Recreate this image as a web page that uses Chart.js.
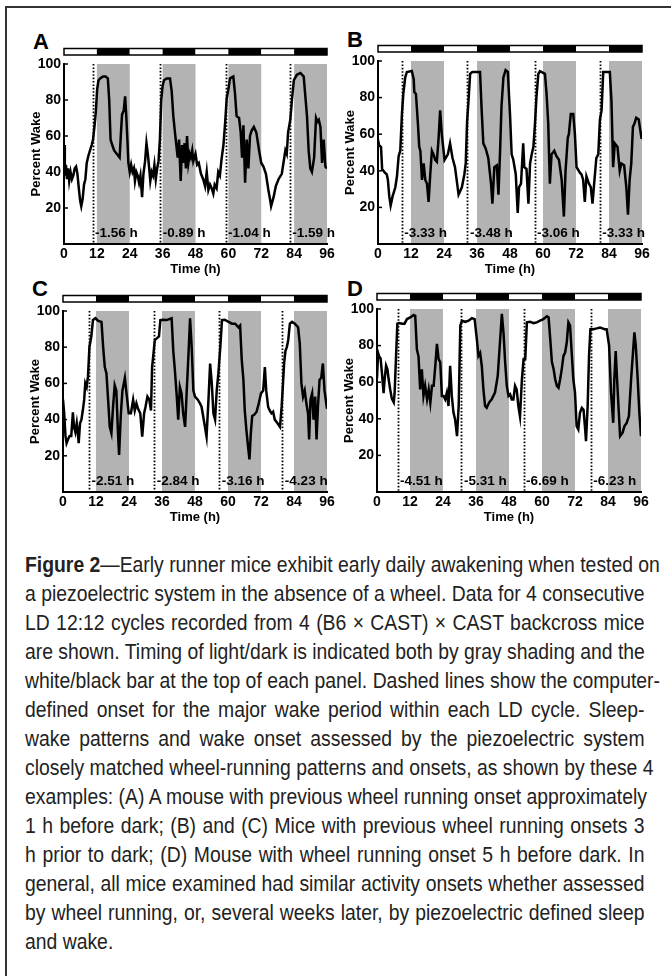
<!DOCTYPE html>
<html>
<head>
<meta charset="utf-8">
<script src="https://cdn.jsdelivr.net/npm/chart.js@4.4.0/dist/chart.umd.min.js"></script>
<style>
  body { margin: 0; background: #fff; }
  #page { position: relative; width: 671px; height: 976px; overflow: hidden; background: #fff; }
  #frame { position: absolute; left: 5px; top: 6px; width: 720px; height: 1000px;
           border-top: 2px solid #333; border-left: 2px solid #333; }
  canvas { position: absolute; }
  .tag { position: absolute; font: bold 22px "Liberation Sans", Arial, sans-serif; line-height: 22px; color: #000; }
  #caption { position: absolute; left: 25px; top: 550px;
             font-family: "Liberation Sans", Arial, sans-serif;
             font-size: 22px; line-height: 29px; color: #222; }
  /* narrow face: Arial metrics squeezed horizontally */
  #caption div { width: 704px; transform: scaleX(0.88); transform-origin: 0 0;
                 text-align: justify; text-align-last: justify; white-space: nowrap; }
  #caption div.last { text-align-last: left; }
</style>
</head>
<body>
<div id="page">
  <div id="frame"></div>
  <div class="tag" style="left:33px;top:31px">A</div>
  <div class="tag" style="left:347px;top:29px">B</div>
  <div class="tag" style="left:32px;top:278px">C</div>
  <div class="tag" style="left:347px;top:278px">D</div>
  <canvas id="chartA"></canvas>
  <canvas id="chartB"></canvas>
  <canvas id="chartC"></canvas>
  <canvas id="chartD"></canvas>
  <div id="caption">
    <div><b>Figure 2</b>—Early runner mice exhibit early daily awakening when tested on</div>
    <div>a piezoelectric system in the absence of a wheel. Data for 4 consecutive</div>
    <div>LD 12:12 cycles recorded from 4 (B6 × CAST) × CAST backcross mice</div>
    <div>are shown. Timing of light/dark is indicated both by gray shading and the</div>
    <div>white/black bar at the top of each panel. Dashed lines show the computer-</div>
    <div>defined onset for the major wake period within each LD cycle. Sleep-</div>
    <div>wake patterns and wake onset assessed by the piezoelectric system</div>
    <div>closely matched wheel-running patterns and onsets, as shown by these 4</div>
    <div>examples: (A) A mouse with previous wheel running onset approximately</div>
    <div>1 h before dark; (B) and (C) Mice with previous wheel running onsets 3</div>
    <div>h prior to dark; (D) Mouse with wheel running onset 5 h before dark. In</div>
    <div>general, all mice examined had similar activity onsets whether assessed</div>
    <div>by wheel running, or, several weeks later, by piezoelectric defined sleep</div>
    <div class="last">and wake.</div>
  </div>
</div>
<script>
// time axis ticks (h) and percent wake ticks
const timeTicks = [0, 12, 24, 36, 48, 60, 72, 84, 96];
const wakeTicks = [20, 40, 60, 80, 100];
const darkStarts = [12, 36, 60, 84];

// wake onset relative to dark onset (h), one per LD cycle
const onsetA = [-1.56, -0.89, -1.04, -1.59];
const onsetB = [-3.33, -3.48, -3.06, -3.33];
const onsetC = [-2.51, -2.84, -3.16, -4.23];
const onsetD = [-4.51, -5.31, -6.69, -6.23];

// panel A
const timeA = [0,0.3,0.7,1.1,1.5,1.9,2.4,2.9,3.4,3.9,4.4,4.9,5.4,5.9,6.3,6.8,7.3,7.8,8.3,8.9,9.5,10.1,10.6,11.1,11.6,12.1,12.6,13.2,14.2,15.2,16,16.5,17,17.6,18.3,19.3,20.3,20.8,21.2,21.8,22.3,22.7,23.2,23.5,24,24.5,25,25.5,25.9,26.4,26.9,27.4,27.9,28.5,29,29.6,30.1,30.6,31.1,31.5,32,32.5,33,33.5,34,34.5,35,35.5,36,36.5,37.5,38.7,39.3,39.9,40.5,41,41.5,42,42.6,43.1,43.5,44,44.5,44.9,45.4,45.9,46.3,46.8,47.2,48,48.6,49.2,50,50.8,51.5,52.1,52.7,53.3,53.9,54.5,55,55.7,56.3,56.9,57.5,58.2,58.8,59.4,60,60.6,61.8,62.4,63,63.9,64.5,65,65.5,66.1,66.7,67.3,67.9,68.5,69.3,70.2,71.2,72,72.8,73.7,74.6,75.3,75.6,76.5,77.3,78.3,79.5,80.2,80.8,81.3,81.8,82.6,83.2,83.9,85,86.3,87.5,88.1,88.7,89.3,89.9,90.5,91.3,92,92.5,93,93.6,94.2,94.8,95.4,96];
const wakeA = [55,38,44,36,42,35,40,36,38,42,43,39,31,24,21,25,33,36,45,49,52,55,58,65,73,86,91,92,93,93,92,80,58,55,52,50,48,62,72,74,82,72,56,45,40,44,40,42,35,40,38,34,38,26,39,46,56,50,42,35,40,38,44,36,42,46,58,80,88,91,92,92,85,71,62,55,48,58,35,55,45,56,42,60,45,50,48,52,46,50,44,45,39,36,32,40,30,33,31,28,33,31,40,38,47,55,67,81,86,92,93,84,71,70,62,48,66,34,58,42,60,63,65,62,52,45,43,39,30,24,21,26,32,36,39,46,52,50,62,69,80,91,94,95,93,82,71,52,42,40,48,70,68,69,65,45,58,43,42];

// panel B
const timeB = [0,0.4,1.1,1.5,2.5,3.2,3.6,4.1,4.6,5.3,6.3,6.9,7.5,8.1,8.7,9.2,9.9,10.5,12.3,13,13.2,13.8,14.5,15,15.4,16,16.6,17.2,17.8,18.4,19,19.6,20.2,20.8,21.4,22,22.6,23.2,24.2,25.4,26.2,27.1,28,29.3,30.5,31.4,31.9,32.4,32.9,33.5,34.3,37.1,37.7,38.3,39.2,40.1,41.1,41.6,42.3,43.2,43.8,44.4,44.9,45.6,46.4,47.2,48,48.6,49.2,50.1,50.8,51.3,52,52.8,53.2,54,54.7,55.3,55.9,56.5,57.1,57.6,58.3,58.9,60.7,61.3,61.9,62.5,63.1,64.1,64.9,65.8,66.8,67.6,68.2,69,69.4,70.1,71,71.6,72.2,73.4,74,74.6,75.2,75.8,76.7,77.4,78,78.6,79.4,80.1,80.7,81.3,81.9,84.3,84.9,85.5,86.1,87.1,87.9,88.5,89.5,90.3,90.9,91.5,92.1,92.7,93.3,93.9,94.8,95.8,96];
const wakeB = [57,54,53,41,39,38,35,26,21,26,31,37,48,51,71,82,91,94,94.5,90,83,82,66,53,51,35,44,35,33,23,38,51,49,46,45,57,73,60,46,49,55,47,42,27,31,38,44,67,78,93,94,94,73,55,52,47,33,22,42,43,27,51,75,91,95,94,71,49,46,38,17,31,33,55,42,41,22,44,49,53,66,80,93,94.5,93,82,66,33,49,51,48,46,35,15,40,58,60,71,71,60,42,39,38,35,23,37,33,31,22,33,47,49,68,73,94,94,78,42,55,53,40,44,43,31,16,35,44,64,66,69,68,58,58];

// panel C
const timeC = [0,0.4,0.9,1.3,1.8,2.4,3,3.6,4,4.5,5,5.5,5.7,6.2,6.7,7.2,7.7,8.1,8.6,9.1,9.6,10.3,10.9,11.8,12.8,14,14.6,15.2,15.8,16.4,17,17.6,18.2,18.8,19.4,20,20.4,21,21.6,22.5,23.1,23.9,24.7,25.5,26.1,26.7,27.3,28.1,28.8,29.5,30,30.7,31.4,32,32.4,32.9,33.4,34.2,34.9,35.4,36.5,37.7,39.5,40.1,40.7,41.3,41.9,42.5,43.1,43.7,44.4,45,45.6,46.2,46.8,47.4,48,49,49.8,50.4,51.4,52.2,52.9,53.5,54.1,54.7,55.3,55.9,56.5,57.2,57.8,58.8,60.2,61.4,62.6,63.8,64.4,65,65.6,66.1,66.7,67.3,67.8,68.3,68.8,69.5,70.4,71.2,72,72.8,73.4,73.9,74.6,75.2,75.8,76.4,77,78,78.9,79.5,80,80.4,80.9,81.4,81.9,82.5,83.3,84.3,85.5,86.1,86.7,87.3,87.9,88.5,89.1,89.5,90,90.6,91.1,91.7,92.2,92.7,93.3,93.9,94.5,95.1,96];
const wakeC = [51,44,31,27,29,31,31,44,36,33,38,31,27,38,40,45,51,60,58,64,80,86,95,96,94.5,94,80,69,65.5,51,36,32.5,47,59,56,32.5,20.5,42,56,63,54.5,43.5,43.5,51,45,49,46,43.5,30.6,43.5,47,52.7,51,45,69,76.5,84,85,86,95,95.2,95,96,78,67,54.5,40,58,54.5,43.5,36,56,75,96,80,56,52.7,51,49,47,38,30.6,51,71,60,43.5,40,56,65.5,80,95,95.2,94,93,93,91,92,73,62,45,34,25,18,32.5,42,42.6,44.4,49,54.5,56,69,56,47,45,43.5,44.4,40,38,36,47,60,71,78,80,84,93,94,93,91,82,60,52.7,56,49,43.5,29,51,54.5,40,52.7,29,47,62,63,71,56,46];

// panel D
const timeD = [0,0.4,0.8,1.3,1.8,2.4,2.8,3.3,3.8,4.2,4.8,5.4,6.1,6.4,6.9,7.4,8.1,9.1,10,10.9,12.1,13.3,13.9,14.5,15.1,15.7,16.3,16.9,17.5,18.2,18.8,19.4,20,20.6,21.2,21.8,22.4,23,23.6,24.2,24.8,25.4,26,26.6,27.2,27.8,28.4,29.1,29.7,30.3,30.9,32.1,33.3,34.5,35.5,36.3,36.9,37.5,38.1,38.7,39.3,39.9,40.8,41.7,42.9,43.9,44.8,45.4,46,46.6,47.2,47.8,48.4,49,49.6,50.2,50.8,51.4,52,52.7,53.3,53.9,54.5,55.7,56.9,58.1,59.3,60.5,61.8,62.4,63,63.6,64.2,64.8,65.4,66,66.6,67.2,67.8,68.4,69,69.6,70.2,70.8,71.4,72,72.6,73.2,73.8,74.5,75.1,75.7,76,76.6,77.1,77.6,78.7,79.9,81.1,82,82.7,83.5,84.4,85.1,85.9,86.3,86.8,87.3,87.8,88.4,89.3,90,90.8,91.6,92.4,93,93.6,94.1,94.8,95.4,96];
const wakeD = [62,76,74,73,65,54,62,69,67,62,56,51,49,54,73,92,92.3,92,92,94.5,95.4,96.7,96.3,78,74,56,67,52.5,58,50.6,56,48.8,58,58,69,81,72.6,71,52.5,52.5,50.6,54.3,47,69,52.5,43.5,39.7,30.5,47,91,93.6,93,93.6,95,94.5,83.5,74.4,76,69,56,47,46,49,50.6,54.3,63.4,83.5,97.3,87,71,58,52.5,53.4,50.6,50.6,58,56,47,41.3,61.6,72.6,72.6,92.7,93,92.3,92.7,93.6,94.5,96,95.4,83.5,71,67.3,61.6,58,57,61.6,67.3,74.4,76.2,81.7,92.7,91,76.2,61.6,54.3,36,34.2,43.3,46,45,34.2,27.8,47,74.4,89,89,89.4,89.9,89.4,89,89,80,54.3,37.8,61.6,77,61.6,47,30.5,32.4,36,37.8,41.5,61.6,74.4,87.2,80,61.6,43.3,30.5];

Chart.defaults.font.family = "'Liberation Sans', Arial, Helvetica, sans-serif";
Chart.defaults.color = '#000';

const AXIS_W = 44, PAD_TOP = 24, PAD_RIGHT = 12, XAXIS_H = 36;

const ldPlugin = {
  id: 'ld',
  beforeDraw(chart, args, opts) {
    const {ctx, chartArea: a, scales: {x}} = chart;
    ctx.save();
    // gray shading for the dark phase
    ctx.fillStyle = '#b3b3b3';
    darkStarts.forEach(s => {
      const x0 = x.getPixelForValue(s), x1 = x.getPixelForValue(s + 12);
      ctx.fillRect(x0, a.top, x1 - x0, a.bottom - a.top);
    });
    // dotted lines at computed wake onset
    ctx.strokeStyle = '#000';
    ctx.lineWidth = 1.8;
    ctx.setLineDash([1.6, 1.8]);
    opts.onsets.forEach((o, i) => {
      const px = Math.round(x.getPixelForValue(darkStarts[i] + o)) + 0.5;
      ctx.beginPath();
      ctx.moveTo(px, a.top);
      ctx.lineTo(px, a.bottom);
      ctx.stroke();
    });
    ctx.restore();
  },
  afterDraw(chart, args, opts) {
    const {ctx, chartArea: a, scales: {x, y}} = chart;
    ctx.save();
    // onset labels
    ctx.font = "bold 13.5px 'Liberation Sans', Arial, sans-serif";
    ctx.fillStyle = '#000';
    ctx.textBaseline = 'middle';
    ctx.textAlign = 'left';
    opts.onsets.forEach((o, i) => {
      const px = x.getPixelForValue(darkStarts[i] + o);
      ctx.fillText(o.toFixed(2) + ' h', px + 2.5, a.bottom - 11);
    });
    // light/dark bar above the plot
    const barTop = a.top - 15.5, barH = 6.5;
    for (let s = 0; s < 96; s += 12) {
      const x0 = x.getPixelForValue(s), x1 = x.getPixelForValue(s + 12);
      ctx.fillStyle = darkStarts.includes(s) ? '#000' : '#fff';
      ctx.fillRect(x0, barTop, x1 - x0, barH);
    }
    ctx.strokeStyle = '#000';
    ctx.lineWidth = 1.5;
    ctx.strokeRect(a.left, barTop, a.right - a.left, barH);
    // short inward ticks on the y axis
    wakeTicks.forEach(v => {
      const py = y.getPixelForValue(v);
      ctx.beginPath();
      ctx.moveTo(a.left, py);
      ctx.lineTo(a.left + 4, py);
      ctx.stroke();
    });
    ctx.restore();
  }
};

function makePanel(id, time, wake, onsets, plot) {
  const [left, top, w, h] = plot;
  const canvas = document.getElementById(id);
  canvas.width = w + AXIS_W + PAD_RIGHT;
  canvas.height = h + PAD_TOP + XAXIS_H;
  canvas.style.left = (left - AXIS_W) + 'px';
  canvas.style.top = (top - PAD_TOP) + 'px';
  canvas.style.width = canvas.width + 'px';
  canvas.style.height = canvas.height + 'px';

  return new Chart(canvas.getContext('2d'), {
    type: 'line',
    data: {
      datasets: [{
        data: time.map((t, i) => ({x: t, y: wake[i]})),
        borderColor: '#000',
        borderWidth: 2.5,
        pointRadius: 0,
        tension: 0,
        fill: false
      }]
    },
    options: {
      responsive: false,
      animation: false,
      layout: { padding: { left: 0, top: PAD_TOP, right: PAD_RIGHT, bottom: 0 } },
      plugins: {
        legend: { display: false },
        tooltip: { enabled: false },
        ld: { onsets: onsets }
      },
      scales: {
        x: {
          type: 'linear',
          min: 0,
          max: 96,
          afterBuildTicks: s => { s.ticks = timeTicks.map(v => ({value: v})); },
          afterFit: s => { s.height = XAXIS_H; },
          ticks: { padding: 2, maxRotation: 0, autoSkip: false, color: '#000',
                   font: { size: 14, weight: 'bold' } },
          grid: { display: false, drawTicks: false },
          border: { display: true, color: '#000', width: 2 },
          title: { display: true, text: 'Time (h)', color: '#000', padding: { top: 0, bottom: 3 },
                   font: { size: 13, weight: 'bold' } }
        },
        y: {
          min: 0,
          max: 100,
          afterBuildTicks: s => { s.ticks = wakeTicks.map(v => ({value: v})); },
          afterFit: s => { s.width = AXIS_W; },
          ticks: { padding: 3, color: '#000', font: { size: 14, weight: 'bold' } },
          grid: { display: false, drawTicks: false },
          border: { display: true, color: '#000', width: 2 },
          title: { display: true, text: 'Percent Wake', color: '#000', padding: { top: 9, bottom: 0 },
                   font: { size: 13, weight: 'bold' } }
        }
      }
    },
    plugins: [ldPlugin]
  });
}

makePanel('chartA', timeA, wakeA, onsetA, [64, 64, 263, 180]);
makePanel('chartB', timeB, wakeB, onsetB, [378, 61, 264, 183]);
makePanel('chartC', timeC, wakeC, onsetC, [63, 311, 264, 181]);
makePanel('chartD', timeD, wakeD, onsetD, [377, 309, 264, 183]);
</script>
</body>
</html>
